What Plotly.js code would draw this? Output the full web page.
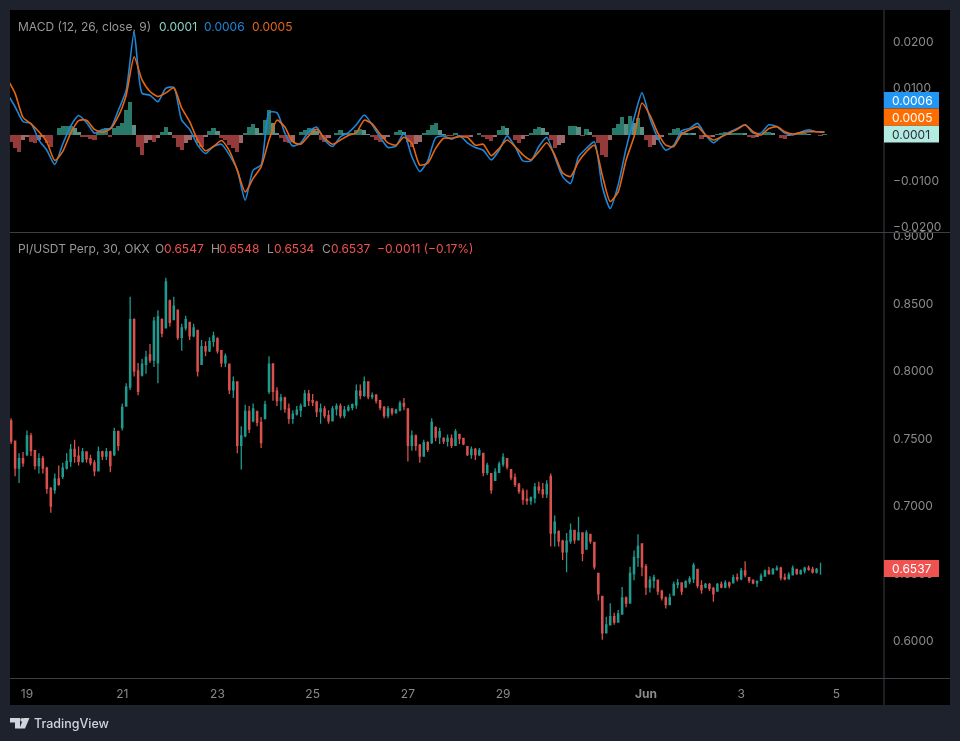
<!DOCTYPE html>
<html><head><meta charset="utf-8">
<script src="https://cdn.plot.ly/plotly-3.0.1.min.js"></script>
<style>html,body{margin:0;padding:0;background:#1e222d}#c{width:960px;height:741px;filter:blur(.35px)}</style>
</head><body><div id="c"></div>
<script>
// 2-hour candles
var opens=[.763,.748,.728,.735,.738,.752,.741,.730,.735,.728,.713,.712,.720,.722,.728,.733,.742,.737,.733,.740,.735,.732,.726,.740,.737,.740,.738,.755,.758,.774,.788,.838,.800,.797,.805,.812,.808,.806,.838,.832,.852,.838,.845,.825,.832,.836,.826,.830,.805,.818,.815,.822,.824,.815,.806,.805,.786,.792,.745,.752,.770,.763,.770,.762,.765,.785,.805,.785,.778,.780,.772,.765,.768,.771,.774,.783,.778,.777,
.770,.772,.767,.763,.772,.774,.767,.771,.773,.775,.785,.782,.792,.781,.782,.778,.773,.767,.772,.769,.771,.776,.772,.745,.752,.745,.737,.747,.747,.758,.751,.750,.748,.750,.745,.753,.750,.744,.738,.742,.738,.739,.725,.724,.719,.725,.731,.735,.727,.721,.716,.711,.705,.704,.706,.714,.712,.709,.722,.680,.681,.674,.666,.674,.682,.675,.680,.668,.679,.673,.650,.633,.606,.612,.618,.614,.620,.632,.628,.650,
.662,.672,.655,.640,.645,.645,.637,.632,.627,.634,.642,.643,.640,.644,.646,.653,.641,.640,.642,.639,.637,.642,.640,.643,.643,.647,.646,.652,.647,.645,.643,.645,.648,.652,.650,.653,.654,.647,.646,.649,.653,.650,.652,.654,.653,.651,.6547];
var highs=[.765,.748,.739,.740,.756,.754,.741,.739,.737,.729,.714,.724,.730,.732,.739,.746,.749,.744,.743,.740,.738,.734,.744,.741,.743,.741,.758,.756,.776,.791,.855,.839,.806,.809,.815,.820,.840,.845,.839,.869,.853,.855,.845,.835,.841,.836,.835,.830,.823,.822,.825,.829,.825,.815,.813,.805,.796,.792,.759,.775,.774,.776,.770,.766,.778,.811,.806,.788,.783,.781,.776,.771,.774,.776,.786,.786,.783,.778,
.776,.774,.771,.774,.776,.776,.774,.775,.776,.790,.790,.796,.792,.784,.783,.778,.774,.774,.772,.772,.778,.780,.772,.756,.753,.746,.749,.748,.765,.759,.758,.751,.753,.753,.757,.753,.750,.744,.744,.743,.743,.739,.732,.724,.728,.733,.739,.735,.727,.724,.717,.713,.712,.707,.717,.718,.717,.719,.724,.693,.682,.675,.680,.687,.681,.692,.680,.682,.679,.672,.650,.633,.618,.628,.621,.623,.640,.633,.655,.667,
.679,.672,.657,.648,.649,.645,.638,.633,.635,.644,.646,.643,.645,.648,.658,.653,.645,.643,.643,.640,.643,.644,.645,.644,.649,.650,.654,.659,.647,.645,.645,.650,.653,.655,.654,.656,.655,.650,.651,.656,.653,.653,.655,.656,.655,.654,.658,.6548];
var lows=[.746,.722,.717,.729,.737,.737,.727,.724,.724,.709,.695,.709,.715,.720,.727,.729,.732,.730,.732,.732,.730,.722,.729,.734,.734,.725,.737,.741,.756,.776,.786,.796,.782,.796,.798,.806,.803,.791,.825,.836,.833,.838,.823,.815,.830,.823,.825,.796,.807,.811,.814,.818,.813,.803,.803,.783,.780,.739,.727,.751,.754,.762,.759,.743,.764,.783,.778,.774,.771,.769,.761,.761,.767,.766,.774,.774,.774,.766,
.761,.765,.761,.765,.767,.765,.765,.770,.771,.772,.779,.781,.779,.779,.776,.771,.765,.765,.767,.769,.770,.771,.733,.741,.741,.732,.739,.740,.746,.748,.746,.746,.744,.743,.746,.746,.745,.737,.735,.734,.737,.722,.723,.709,.719,.725,.729,.727,.719,.714,.709,.701,.701,.701,.702,.709,.706,.706,.670,.670,.670,.660,.651,.672,.672,.675,.659,.670,.672,.653,.630,.601,.606,.613,.612,.616,.625,.625,.638,.645,
.655,.648,.634,.636,.639,.634,.630,.624,.628,.634,.639,.634,.640,.642,.643,.639,.635,.639,.637,.629,.637,.639,.639,.639,.643,.644,.645,.647,.643,.642,.640,.645,.648,.649,.649,.652,.645,.645,.646,.649,.649,.649,.650,.652,.650,.650,.649,.6534];
var closes=[.748,.728,.735,.732,.752,.741,.730,.735,.728,.713,.700,.720,.716,.728,.733,.742,.737,.733,.740,.735,.732,.726,.740,.737,.740,.730,.755,.745,.773,.788,.838,.800,.785,.805,.810,.808,.837,.840,.828,.866,.836,.848,.825,.832,.838,.826,.832,.800,.818,.815,.822,.826,.815,.806,.811,.786,.792,.745,.752,.770,.757,.772,.762,.747,.775,.805,.785,.778,.780,.772,.765,.768,.771,.774,.783,.778,.777,.770,
.772,.767,.763,.772,.774,.767,.771,.773,.775,.785,.782,.792,.781,.782,.778,.773,.767,.772,.769,.771,.776,.774,.745,.752,.745,.737,.747,.742,.762,.751,.755,.748,.750,.745,.755,.750,.746,.738,.742,.738,.741,.725,.730,.712,.725,.731,.736,.729,.721,.716,.711,.705,.704,.706,.714,.712,.709,.716,.680,.688,.674,.666,.674,.682,.675,.680,.665,.680,.674,.655,.635,.606,.612,.618,.614,.620,.632,.628,.650,.662,
.670,.655,.640,.645,.647,.637,.632,.627,.632,.642,.643,.637,.644,.646,.656,.641,.638,.642,.639,.635,.642,.640,.643,.641,.647,.646,.652,.649,.645,.643,.644,.648,.652,.650,.653,.654,.647,.646,.649,.654,.650,.652,.654,.653,.651,.653,.6547,.6537];
// MACD pane, 4-hour samples, in thousandths
var macdLine=[8.9,6.0,2.8,2.4,-1.2,-3.4,-6.5,-2.1,1.8,4.1,2.6,.3,1.1,1.3,5.2,9.6,22.1,8.9,8.5,7.1,10.0,10.2,3.1,1.1,-2.3,-4.1,-2.6,-2.1,-4.4,-7.7,-14.2,-7.7,-6.6,4.8,4.7,.3,-2.5,-1.8,.6,1.6,
-1.2,-2.6,-.5,.4,2.1,4.2,2.1,-.6,-2.8,-2.5,.3,-4.8,-8.0,-5.7,-.7,-.3,-1.0,-.2,-1.8,-2.8,-3.4,-5.5,-3.4,-.3,-2.6,-5.7,-5.7,-2.6,-.6,-4.8,-9.1,-10.6,-4.8,-3.0,-1.6,-11.3,-16.0,-10.9,-3.0,3.5,
9.0,3.5,-.8,-3.4,-2.3,.8,1.3,2.4,-.1,-1.8,-.5,.5,1.3,2.1,.3,.3,2.1,1.7,.3,-.1,.5,1.0,.6,.6];
var signalLine=[12.1,8.9,3.7,2.3,.6,-1.6,-5.6,-3.7,.3,3.0,3.1,1.1,.5,1.2,3.9,8.5,16.8,11.8,9.3,8.2,9.0,10.1,5.7,2.8,-1.2,-3.5,-2.6,-1.3,-3.5,-7.7,-12.4,-9.5,-7.0,-1.2,3.1,1.6,-1.6,-2.1,-.3,1.1,
-.8,-2.1,-1.2,-.2,.4,3.1,2.3,.1,-1.8,-2.3,-.6,-1.9,-6.6,-6.2,-3.0,-.8,-.8,-.5,-.6,-2.3,-2.1,-4.6,-3.0,-1.2,-2.6,-4.4,-5.5,-3.7,-1.8,-4.4,-8.3,-9.1,-5.9,-3.7,-2.3,-8.8,-14.5,-12.4,-5.5,-.5,
6.8,4.2,.3,-2.3,-2.6,.1,1.0,1.7,-.1,-1.2,-.5,.3,1.1,2.1,.6,-.1,1.3,1.7,.6,.1,.4,.6,.6,.5];
// histogram, 2-hour samples, in thousandths
var histogram=[-1.55,-3.0,-3.7,-1.2,-.5,-1.55,-1.9,-1.2,-.5,-1.9,-2.6,-.1,1.3,1.8,1.8,1.8,1.3,.6,-.5,-.6,-1.0,-1.2,.6,1.0,1.3,-.6,1.3,1.8,2.4,5.3,7.1,2.05,-2.6,-4.4,-1.9,-1.2,-1.55,-.8,.6,1.7,.6,-.8,-2.6,-3.35,-1.9,-1.2,-.5,-1.9,-2.6,-.5,.8,1.3,.8,-.8,-1.2,-2.3,-3.0,-3.7,-1.9,.25,1.7,2.3,1.3,.25,3.1,5.3,2.4,.25,-.8,-1.55,-1.9,-1.55,-.1,.6,1.0,1.3,1.1,.8,
-1.2,-1.55,-.8,-.1,.4,1.0,.25,.25,.4,1.0,1.1,1.0,.1,-.6,-1.2,-1.55,-1.0,-.6,-.1,.6,1.0,.6,-1.55,-2.6,-2.05,-1.55,.25,1.0,2.05,2.4,1.0,.1,-.3,-.3,.25,-.3,-.5,-.6,-.5,-.1,.25,-.5,-1.0,-1.3,-.5,1.0,1.8,1.3,-.1,-1.2,-1.8,-1.0,-.3,.25,1.1,1.55,1.3,.6,-1.2,-3.0,-2.3,-1.8,-.1,1.8,1.8,1.7,-.3,1.1,.6,-.6,-1.9,-4.4,-4.8,-1.2,1.3,2.3,3.7,2.3,3.9,2.4,
3.5,1.7,-1.2,-2.6,-2.3,-1.2,-.5,0,.25,1.1,1.3,.6,.4,.4,.25,-.1,-1.0,-.6,-.6,-.5,.1,.4,.6,.4,.4,.4,.4,.25,-.5,-.75,-.5,-.1,.6,.6,.4,-.1,-.8,-1.0,-.3,.1,.1,.25,.25,.1,0,-.1,-.25,.1];
var priceTicks=[.6,.65,.7,.75,.8,.85,.9];
var macdTicks=[-.02,-.01,0,.01,.02];
var dayTicks=['2025-05-19','2025-05-21','2025-05-23','2025-05-25','2025-05-27','2025-05-29','2025-06-01','2025-06-03','2025-06-05'];
var dayLabels=['19','21','23','25','27','29','<b>Jun</b>','3','5'];
var macdName='MACD (12, 26, close, 9)', macdHist='0.0001', macdVal='0.0006', macdSig='0.0005';
var priceName='PI/USDT Perp, 30, OKX', lastO='0.6547', lastH='0.6548', lastL='0.6534', lastC='0.6537', lastChange='\u22120.0011 (\u22120.17%)';

var T0=Date.UTC(2025,4,18,16), H2=2*3600e3;
function iso(ms){return new Date(ms).toISOString().slice(0,19).replace('T',' ');}
var candleX=opens.map(function(_,i){return iso(T0+i*H2);});
var histX=histogram.map(function(_,i){return iso(T0+i*H2);});
var macdX=macdLine.map(function(_,k){return iso(T0-H2+k*2*H2);});
function th(a){return a.map(function(v){return v/1000;});}
var histColors=histogram.map(function(v,i){var p=i?histogram[i-1]:0;
  if(v>=0) return v>=p?'#2a7a6c':'#5d8f85';
  return v<=p?'#953a3a':'#a06868';});

function px(x){return x/960;} function py(y){return 1-y/741;}
var grey='#989898', red='#ef5350';
function note(x,y,t,c,s,anchor,w){return {xref:'paper',yref:'paper',x:px(x-1),y:py(y),text:t,showarrow:false,xanchor:anchor||'left',yanchor:'middle',
  font:{family:'Inter',size:s||12,color:c,weight:w||400},borderpad:0,captureevents:false};}
function rect(x0,y0,x1,y1,c,layer){return {type:'rect',xref:'paper',yref:'paper',x0:px(x0),x1:px(x1),y0:py(y0),y1:py(y1),fillcolor:c,line:{width:0},layer:layer||'above'};}
function hl(x0,y0,x1,y1){return {type:'line',xref:'paper',yref:'paper',x0:px(x0),x1:px(x1),y0:py(y0),y1:py(y1),line:{color:'#3c3f46',width:1},layer:'above'};}
function poly(pts,c){var d=pts.map(function(p,i){return (i?'L':'M')+px(p[0])+','+py(p[1]);}).join(' ')+' Z';
  return {type:'path',xref:'paper',yref:'paper',path:d,fillcolor:c,line:{width:0},layer:'above'};}

var shapes=[
 rect(10,10,950,705,'#000000','below'),
 hl(884,10,884,705), hl(10,232.5,950,232.5), hl(10,678.5,950,678.5),
 rect(884,92,939,108.4,'#2196f3'), rect(884,108.4,939,125.7,'#ff6d00'), rect(884,125.7,939,142.5,'#b2ebe0'),
 rect(884,560,939,577,'#f0524f'),
 poly([[10,718],[20,718],[20,728.5],[15,728.5],[15,722.5],[10,722.5]],'#d1d4dc'),
 poly([[23.5,718],[29.5,718],[25,728.5],[19.5,728.5]],'#d1d4dc'),
 {type:'circle',xref:'paper',yref:'paper',x0:px(20.3),x1:px(24),y0:py(718),y1:py(721.7),fillcolor:'#d1d4dc',line:{width:0},layer:'above'}
];
var annotations=[
 note(18,26,macdName,grey), note(159,26,macdHist,'#8fd0c2'), note(204,26,macdVal,'#1f86d8'), note(252,26,macdSig,'#e0661a'),
 note(18,249,priceName,grey), note(155,249,'O',grey), note(164,249,lastO,red), note(211,249,'H',grey), note(219,249,lastH,red),
 note(267,249,'L',grey), note(274,249,lastL,red), note(322,249,'C',grey), note(331,249,lastC,red), note(377,249,lastChange,red),
 note(892,100.2,macdVal,'#ffffff'), note(892,117,macdSig,'#ffffff'), note(892,134,macdHist,'#2a2e39'), note(892,568.5,lastC,'#ffffff'),
 note(34,723.5,'TradingView','#d1d4dc',12.5,'left',500)
];
var data=[
 {type:'bar',x:histX,y:th(histogram),xaxis:'x',yaxis:'y2',marker:{color:histColors,line:{width:0}},width:2*3600e3*1.05,hoverinfo:'skip'},
 {type:'scatter',mode:'lines',x:macdX,y:th(macdLine),xaxis:'x',yaxis:'y2',line:{color:'#1c86d9',width:1.6,shape:'spline',smoothing:.6},hoverinfo:'skip'},
 {type:'scatter',mode:'lines',x:macdX,y:th(signalLine),xaxis:'x',yaxis:'y2',line:{color:'#e8650f',width:1.6,shape:'spline',smoothing:.6},hoverinfo:'skip'},
 {type:'candlestick',x:candleX,open:opens,high:highs,low:lows,close:closes,xaxis:'x',yaxis:'y',whiskerwidth:0,
  increasing:{line:{color:'#1f9a8e',width:1.3},fillcolor:'#1f9a8e'},decreasing:{line:{color:'#d9504c',width:1.3},fillcolor:'#d9504c'},hoverinfo:'skip'}
];
var tickFont={family:'Inter',size:12,color:'#8a8a8a'};
var layout={width:960,height:741,margin:{l:0,r:0,t:0,b:0,pad:0},paper_bgcolor:'#1e222d',plot_bgcolor:'rgba(0,0,0,0)',showlegend:false,bargap:0,boxgap:.55,dragmode:false,
 xaxis:{domain:[px(10),px(884)],range:['2025-05-18 15:26','2025-06-06 00:00'],type:'date',anchor:'y',rangeslider:{visible:false},showgrid:false,zeroline:false,showline:false,
   tickmode:'array',tickvals:dayTicks,ticktext:dayLabels,ticks:'',tickfont:{family:'Inter',size:12,color:'#8a8a8a'},ticklabelstandoff:6},
 yaxis:{domain:[py(678.5),py(232.5)],range:[.6-(678.5-641)/1350,.6+(641-232.5)/1350],anchor:'x',side:'right',showgrid:false,zeroline:false,showline:false,
   tickmode:'array',tickvals:priceTicks,tickformat:'.4f',ticks:'',tickfont:tickFont,ticklabelstandoff:8},
 yaxis2:{domain:[py(232.5),py(10)],range:[(134.5-232.5)/4625,(134.5-10)/4625],anchor:'x',side:'right',showgrid:false,zeroline:false,showline:false,
   tickmode:'array',tickvals:macdTicks,tickformat:'.4f',ticks:'',tickfont:tickFont,ticklabelstandoff:8},
 shapes:shapes,annotations:annotations
};
Plotly.newPlot('c',data,layout,{staticPlot:true,displayModeBar:false});
</script></body></html>
